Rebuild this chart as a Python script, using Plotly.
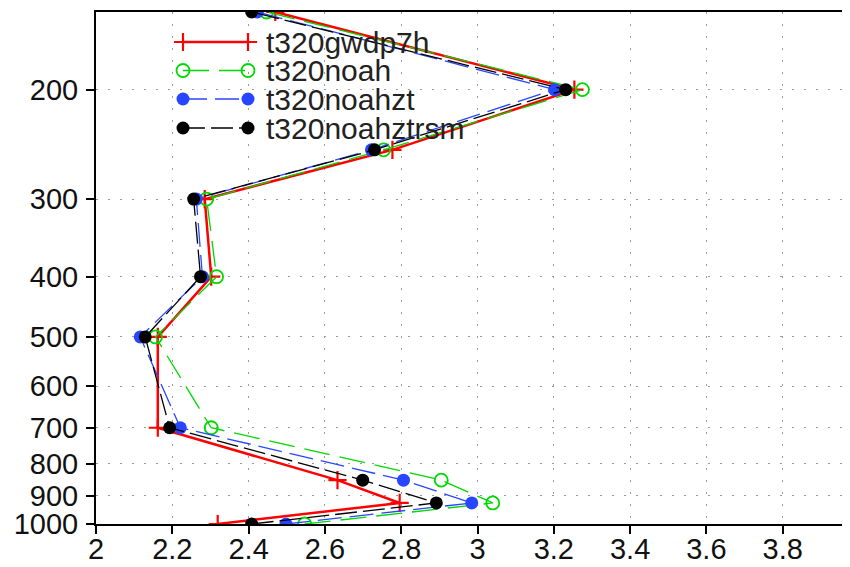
import math
import plotly.graph_objects as go

# ---- data ----
levels = [1000, 925, 850, 700, 500, 400, 300, 250, 200, 150]
t320gwdp7h = [2.319, 2.796, 2.633, 2.162, 2.162, 2.302, 2.285, 2.777, 3.254, 2.470]
t320noah = [2.547, 3.040, 2.905, 2.302, 2.156, 2.316, 2.290, 2.754, 3.275, 2.447]
t320noahzt = [2.498, 2.985, 2.806, 2.221, 2.116, 2.279, 2.263, 2.722, 3.202, 2.423]
t320noahztrsm = [2.408, 2.892, 2.699, 2.193, 2.129, 2.274, 2.256, 2.730, 3.231, 2.408]

series_names = ["t320gwdp7h", "t320noah", "t320noahzt", "t320noahztrsm"]
y_ticks = [200, 300, 400, 500, 600, 700, 800, 900, 1000]
x_ticks = [2, 2.2, 2.4, 2.6, 2.8, 3, 3.2, 3.4, 3.6, 3.8]
x_tick_text = ["2", "2.2", "2.4", "2.6", "2.8", "3", "3.2", "3.4", "3.6", "3.8"]

RED = "#ff0000"
GREEN = "#00d800"
BLUE = "#2846ff"
BLACK = "#000000"

styles = {
    "t320gwdp7h": dict(line=dict(color=RED, width=2.5, dash="solid"),
                       marker=dict(symbol="cross-thin", size=13, line=dict(color=RED, width=2.2))),
    "t320noah": dict(line=dict(color=GREEN, width=1.3, dash="26px,10px"),
                     marker=dict(symbol="circle-open", size=13, color=GREEN, line=dict(color=GREEN, width=1.8))),
    "t320noahzt": dict(line=dict(color=BLUE, width=1.3, dash="24px,8px"),
                       marker=dict(symbol="circle", size=13, color=BLUE, line=dict(width=0))),
    "t320noahztrsm": dict(line=dict(color=BLACK, width=1.3, dash="22px,6px"),
                          marker=dict(symbol="circle", size=13, color=BLACK, line=dict(width=0))),
}
values = {
    "t320gwdp7h": t320gwdp7h,
    "t320noah": t320noah,
    "t320noahzt": t320noahzt,
    "t320noahztrsm": t320noahztrsm,
}

FONT = "Liberation Sans"
FS = 29
# page body has an 8px margin; figure sized/positioned to compensate
OFF = 8
W, H = 850 - OFF, 567 - OFF
ML, MR, MT, MB = 96 - OFF, 0, 12 - OFF, 567 - 524
PLOT_W = W - ML - MR

fig = go.Figure()
for name in series_names:
    st = styles[name]
    fig.add_trace(go.Scatter(
        x=values[name], y=levels, mode="lines+markers", name=name,
        line=st["line"], marker=st["marker"], showlegend=False, cliponaxis=True,
    ))

# ---- custom legend (overlay axes in page-pixel coordinates) ----
leg_x0, leg_x1 = 183, 248
leg_rows = [42, 70.5, 99, 128]
for name, yy in zip(series_names, leg_rows):
    st = styles[name]
    fig.add_trace(go.Scatter(
        x=[leg_x0, leg_x1], y=[yy, yy], mode="lines+markers",
        line=st["line"], marker=st["marker"], xaxis="x2", yaxis="y2",
        showlegend=False, cliponaxis=False, hoverinfo="skip",
    ))
    fig.add_annotation(x=264, y=yy, xref="x2", yref="y2", text=name,
                       showarrow=False, xanchor="left", yanchor="middle",
                       font=dict(family=FONT, size=30, color="#222222"))

grid_dash = "2px,10px"
fig.update_layout(
    width=W, height=H,
    margin=dict(l=ML, r=MR, t=MT, b=MB, pad=0, autoexpand=False),
    paper_bgcolor="white", plot_bgcolor="white",
    font=dict(family=FONT, size=FS, color="#111111"),
    showlegend=False,
    xaxis=dict(
        range=[2, 2 + PLOT_W / 381.5],
        tickvals=x_ticks, ticktext=x_tick_text, automargin=False,
        showline=True, linecolor="black", linewidth=2, mirror=True,
        ticks="outside", ticklen=8, tickwidth=2, tickcolor="black",
        showgrid=True, gridcolor="#9a9a9a", gridwidth=1, griddash=grid_dash,
        zeroline=False, tickfont=dict(family=FONT, size=FS, color="#111111"),
        ticklabelstandoff=-10,
    ),
    yaxis=dict(
        type="log", automargin=False,
        range=[math.log10(1000), math.log10(150)],
        tickvals=y_ticks, ticktext=[str(v) for v in y_ticks],
        showline=True, linecolor="black", linewidth=2, mirror=False,
        ticks="outside", ticklen=8, tickwidth=2, tickcolor="black",
        showgrid=True, gridcolor="#9a9a9a", gridwidth=1, griddash=grid_dash,
        zeroline=False, tickfont=dict(family=FONT, size=FS, color="#111111"),
        ticklabelstandoff=2,
    ),
    xaxis2=dict(range=[96, 850], overlaying="x", visible=False, fixedrange=True),
    yaxis2=dict(range=[524, 12], overlaying="y", visible=False, fixedrange=True),
)

fig.write_html("out.html")
